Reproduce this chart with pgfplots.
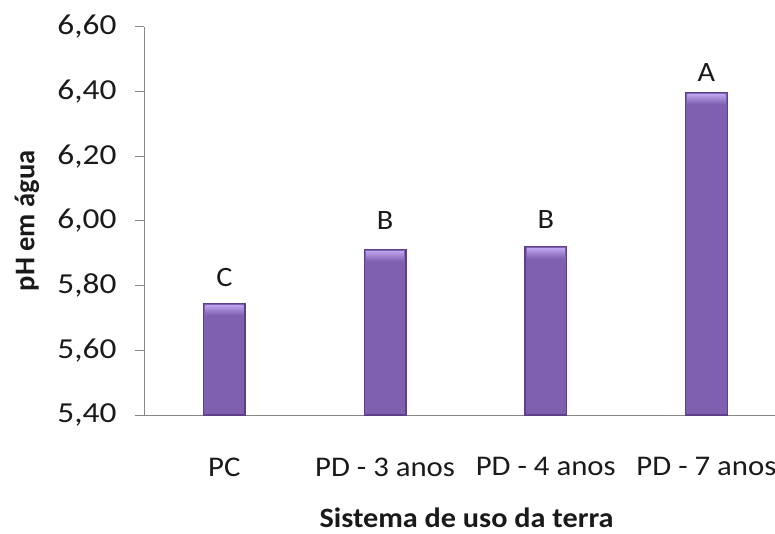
\documentclass[border=0pt]{standalone}
\usepackage{fontspec}
\setmainfont{Carlito}
\newfontfamily\widefont{Carlito}[FakeStretch=1.08]
\newfontfamily\tickfont{Carlito}[FakeStretch=1.15]
\usepackage{pgfplots}
\pgfplotsset{compat=1.18}
\usepackage{pgfplotstable}

\definecolor{barmid}{HTML}{7E5FB0}
\definecolor{baredge}{HTML}{5C4088}
\definecolor{bartop}{HTML}{BBA3EC}
\definecolor{axisgray}{HTML}{868686}
\definecolor{txt}{HTML}{1A1A1A}

% pH em água por sistema de uso da terra
\pgfplotstableread{
x  ph
0  5.745
1  5.912
2  5.920
3  6.397
}\phdata

% letras da comparação de médias
\pgfplotstableread{
x  y      lab
0  5.825  C
1  6.000  B
2  6.003  B
3  6.458  A
}\letras

\begin{document}
\begin{tikzpicture}[x=1pt,y=1pt]
\path[use as bounding box] (0,0) rectangle (775,534);
\begin{axis}[
  at={(144pt,119pt)}, anchor=south west,
  scale only axis, width=631pt, height=388.3pt,
  xmin=-0.5, xmax=3.4266, ymin=5.4, ymax=6.6,
  enlargelimits=false,
  axis x line*=bottom, axis y line*=left,
  axis line style={axisgray, line width=0.9pt},
  xtick={0,1,2,3},
  xticklabels={PC, PD - 3 anos, PD - 4 anos, PD - 7 anos},
  xtick style={draw=none},
  ytick={5.4,5.6,5.8,6.0,6.2,6.4,6.6},
  ytick style={axisgray, line width=0.9pt},
  tick align=outside, major tick length=9pt,
  /pgf/number format/fixed,
  /pgf/number format/fixed zerofill,
  /pgf/number format/precision=2,
  /pgf/number format/use comma,
  /pgf/number format/assume math mode=true,
  xticklabel style={font=\widefont\fontsize{28.5}{30}\selectfont, text=txt, yshift=-30pt},
  yticklabel style={font=\tickfont\fontsize{29}{31}\selectfont, text=txt, xshift=-15pt},
  xlabel={\textbf{Sistema de uso da terra}},
  ylabel={\textbf{pH em água}},
  every axis x label/.style={at={(axis description cs:0.5,0)}, anchor=center,
    yshift=-103pt, xshift=7pt, font=\widefont\fontsize{28}{30}\selectfont, text=txt},
  every axis y label/.style={at={(axis description cs:0,0.5)}, anchor=center,
    rotate=90, yshift=117pt, font=\fontsize{28.5}{30}\selectfont, text=txt},
  clip=false,
]
\addplot[ybar, bar width=41.6pt, draw=baredge, line width=1.4pt, fill=barmid,
  nodes near coords={},
  every node near coord/.style={anchor=north, minimum width=38pt, minimum height=10pt,
    inner sep=0pt, yshift=-1.2pt, top color=bartop, bottom color=barmid}]
  table[x=x, y=ph] {\phdata};
\addplot[only marks, mark=none, nodes near coords, point meta=explicit symbolic,
  every node near coord/.style={anchor=center, font=\widefont\fontsize{28}{30}\selectfont, text=txt}]
  table[x=x, y=y, meta=lab] {\letras};
\end{axis}
\end{tikzpicture}
\end{document}
